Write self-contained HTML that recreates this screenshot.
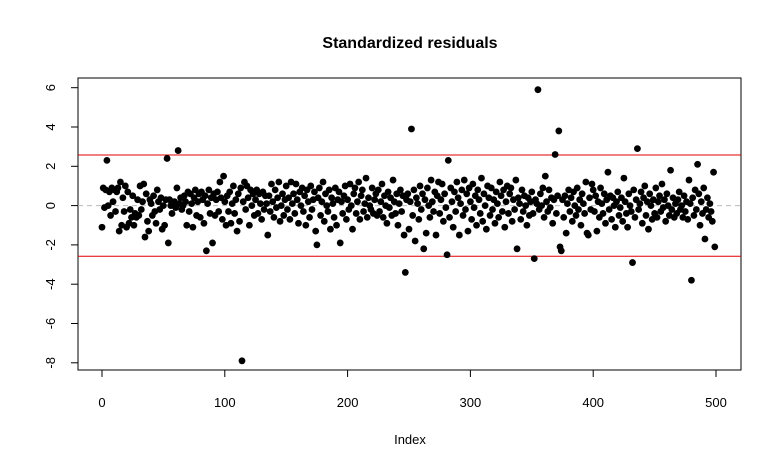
<!DOCTYPE html>
<html><head><meta charset="utf-8"><style>
body{margin:0;background:#fff;}
svg{display:block;font-family:"Liberation Sans",Arial,sans-serif;}
</style></head><body>
<svg id="chart" width="783" height="470" viewBox="0 0 783 470" xmlns="http://www.w3.org/2000/svg">
<rect width="783" height="470" fill="#fff"/>
<text x="410" y="48" text-anchor="middle" font-size="16" font-weight="bold">Standardized residuals</text>
<text x="410" y="444" text-anchor="middle" font-size="13">Index</text>
<rect x="78" y="78" width="663" height="292" fill="none" stroke="#000" stroke-width="1"/>
<g id="axes"></g>
<g id="refs"></g>
<g id="pts"></g>
</svg>
<script>
const xTicks=[0,100,200,300,400,500];
const yTicks=[6,4,2,0,-2,-4,-6,-8];
const refLines=[2.575,-2.575];
const residuals=[
-1.1,0.9,-0.1,0.8,2.3,0.0,0.7,-0.5,0.9,0.2,0.8,-0.3,0.7,0.9,-1.3,1.2,-1.0,0.4,-0.3,1.0,-1.1,0.7,-0.9,-0.2,-0.6,
0.5,-1.0,-0.4,-0.6,0.3,-0.5,1.0,-0.2,0.2,1.1,-1.6,0.6,-0.8,-1.3,0.3,0.1,-0.5,0.5,-0.3,-0.9,0.8,0.2,-0.2,0.4,-1.2,
0.0,-1.0,0.3,2.4,-1.9,0.3,0.0,-0.4,0.1,0.2,-0.1,0.9,2.8,0.1,0.4,-0.2,0.0,0.5,0.2,-1.0,0.7,-0.3,0.6,0.1,-1.1,
0.4,0.8,-0.5,0.2,0.6,-0.6,0.7,0.3,-0.9,0.5,-2.3,0.1,0.8,-0.4,0.4,-1.9,0.6,-0.5,0.3,0.7,-0.3,1.2,0.4,-0.7,1.5,
0.2,-1.0,0.5,-0.3,0.7,-0.9,0.1,1.0,-0.4,0.3,-1.3,0.6,-0.8,0.9,-7.9,0.2,1.2,-0.2,1.0,0.4,-1.0,0.8,0.0,0.6,-0.5,
0.3,0.8,-0.4,0.6,0.1,-0.7,0.7,-0.2,0.5,0.1,-1.5,0.5,-0.3,1.1,0.2,-0.6,0.8,-0.1,0.4,1.2,-0.8,0.0,0.6,-0.5,0.3,
1.0,-0.2,0.4,-0.7,1.2,0.1,0.6,-0.4,1.1,0.3,-0.9,0.7,0.0,0.9,-0.3,0.5,-1.0,0.8,0.2,-0.6,1.0,-0.2,0.3,0.7,-1.3,
-2.0,0.4,0.9,-0.5,0.2,1.2,-0.8,0.6,0.0,-0.3,0.8,-1.2,0.4,0.1,-0.6,0.9,-1.0,0.3,0.7,-1.9,0.2,-0.4,0.5,1.0,-0.7,
0.3,-0.2,1.1,0.0,-1.2,0.6,0.9,-0.4,0.2,1.2,-0.7,0.5,0.8,-0.3,0.1,1.4,-0.6,0.4,0.0,-0.2,0.9,-0.4,0.3,0.6,-0.5,
0.8,-0.3,0.2,1.1,-0.6,0.5,0.0,-0.9,0.7,-0.1,0.4,-0.5,1.3,0.2,-0.4,0.6,-1.0,0.1,0.8,-0.3,0.5,-1.5,-3.4,0.3,0.6,
-1.2,0.2,3.9,-0.5,0.8,-1.8,0.4,0.1,-0.7,1.0,-0.2,0.6,-2.2,0.3,-1.4,0.9,0.0,-0.6,1.3,0.2,-0.3,0.7,-1.5,0.5,1.2,
-0.4,0.3,1.1,-0.8,0.6,-0.1,-2.5,2.3,-0.6,0.9,0.2,-1.1,0.7,-0.3,1.2,0.4,-1.5,0.1,0.8,-0.5,1.3,-0.2,0.6,-1.3,0.9,
0.2,-0.7,1.1,-0.1,0.5,-1.0,0.8,0.3,-0.4,1.4,-0.8,0.6,0.0,-1.2,1.0,0.4,-0.5,0.9,-0.2,0.3,-0.9,0.7,0.1,-0.6,1.2,
0.5,-0.3,0.8,-1.1,0.2,1.0,-0.4,0.6,0.9,-0.8,0.3,-0.2,1.3,-2.2,0.4,0.1,-0.7,0.8,-0.3,0.5,0.0,-1.0,0.4,-0.5,0.2,
0.7,-0.4,-2.7,0.3,0.1,5.9,-0.2,0.6,0.0,0.9,-0.6,1.5,0.2,-0.3,0.8,-0.1,0.4,-0.9,0.3,2.6,-0.4,0.5,3.8,-2.1,-2.3,
0.3,-0.6,0.5,-1.4,0.1,0.8,-0.3,0.4,-0.8,0.7,0.0,-0.5,0.9,-0.2,0.3,-1.0,0.6,0.1,-0.4,1.2,-1.4,-1.5,0.4,-0.2,1.1,
0.8,-0.3,0.5,-1.3,0.2,-0.6,0.9,0.1,-0.4,0.6,-0.9,0.3,1.7,-0.2,0.5,-0.7,0.4,0.0,-1.1,0.2,0.7,-0.5,-0.1,0.4,-0.8,
1.4,0.2,-0.4,-1.1,0.6,0.0,-0.3,-2.9,0.8,-0.6,0.3,2.9,-0.2,0.1,0.7,-0.9,0.4,1.0,-0.5,0.2,-1.2,0.6,0.0,-0.7,0.3,
-0.4,0.9,-0.6,0.2,0.5,-0.3,1.1,-0.1,0.3,-0.8,0.6,0.0,-0.5,1.8,-0.2,0.4,-0.6,0.1,-0.4,0.3,0.7,-0.2,0.0,-0.6,0.5,
-0.3,0.2,-0.7,1.3,0.1,-3.8,0.4,-0.5,0.8,-0.2,2.1,0.6,-1.0,0.2,-0.4,0.9,-1.7,-0.2,0.4,-0.6,0.1,-0.3,-0.8,1.7,-2.1
];
const NS="http://www.w3.org/2000/svg";
function X(v){return 102+v*(614/500);}
function Y(v){return 205.6-v*19.65;}
function mk(tag,attrs,parent){const e=document.createElementNS(NS,tag);for(const k in attrs)e.setAttribute(k,attrs[k]);parent.appendChild(e);return e;}
const axes=document.getElementById('axes');
xTicks.forEach(t=>{
  const l=mk('line',{x1:X(t),x2:X(t),y1:370,y2:377,stroke:'#000'},axes);
  
  
  const tx=mk('text',{x:X(t),y:407,'text-anchor':'middle','font-size':13},axes);
  tx.textContent=t;
  
  
});
yTicks.forEach(t=>{
  const l=mk('line',{x1:71,x2:78,y1:Y(t),y2:Y(t),stroke:'#000'},axes);
  
  
  const tx=mk('text',{x:0,y:0,'text-anchor':'middle','font-size':13,transform:'translate(55,'+Y(t)+') rotate(-90)'},axes);
  tx.textContent=t;
  
  
});
const refs=document.getElementById('refs');
const z=mk('line',{x1:78,x2:741,y1:Y(0),y2:Y(0),stroke:'#bbb','stroke-dasharray':'5,4'},refs);


refLines.forEach(v=>{
  const l=mk('line',{x1:78,x2:741,y1:Y(v),y2:Y(v),stroke:'#e00000','stroke-width':1},refs);
  
  
});
const pts=document.getElementById('pts');
residuals.forEach((v,i)=>{
  const c=mk('circle',{cx:X(i),cy:Y(v),r:3.4,fill:'#000'},pts);
  
  
});
</script>
</body></html>
